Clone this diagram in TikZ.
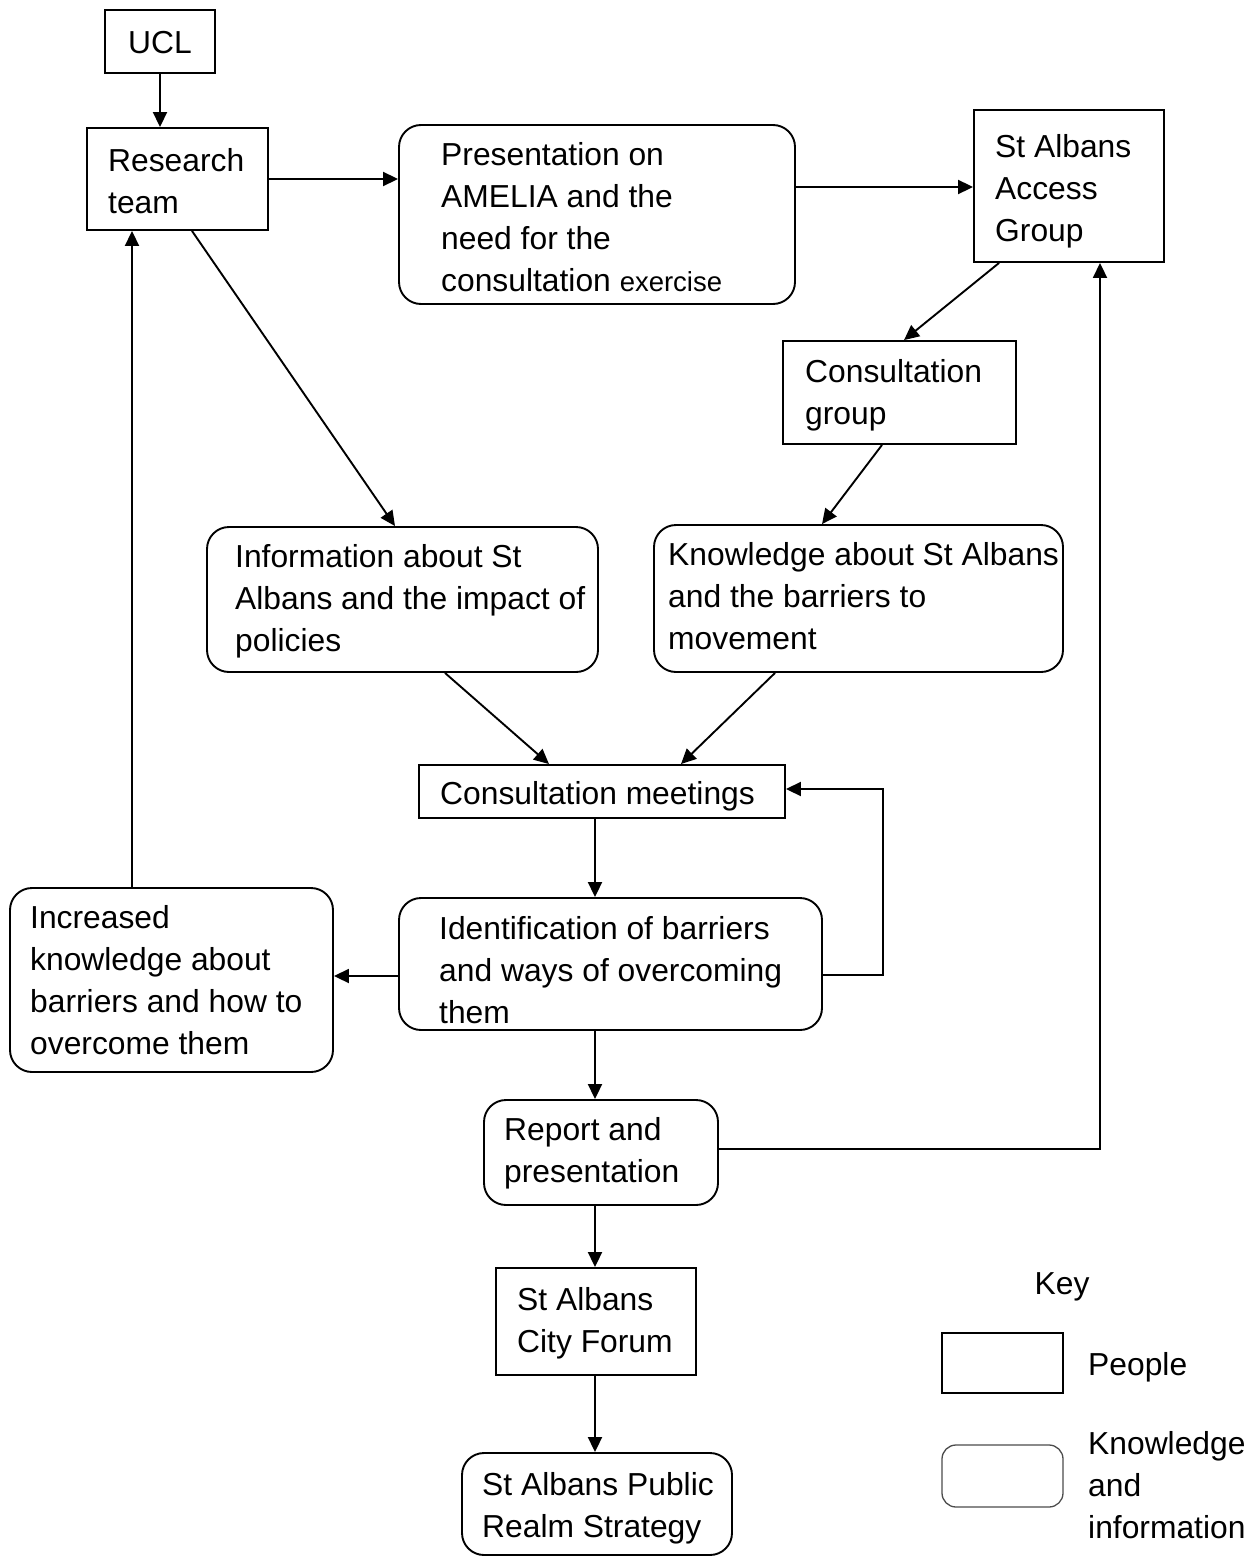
\documentclass[tikz,border=0pt]{standalone}
\usepackage{fontspec}
\setmainfont{Liberation Sans}
\usetikzlibrary{arrows.meta,calc}
\newcommand{\ts}{\strut}
\begin{document}
\begin{tikzpicture}[x=1pt,y=-1pt,
  pbox/.style={draw, line width=1.9pt, rectangle, inner sep=0pt},
  kbox/.style={pbox, rounded corners=22pt},
  txt/.style={font=\fontsize{31.8}{42}\selectfont, align=left, inner sep=0pt, anchor=west},
  arr/.style={-{Triangle[length=15pt,width=14pt]}, line width=1.9pt},
]
\useasboundingbox[fill=white] (0,0) rectangle (1258,1557);

% boxes
\node[pbox, minimum width=110pt, minimum height=63pt] (ucl) at (160,41.5) {};
\node[pbox, minimum width=181pt, minimum height=102pt] (rt) at (177.5,179) {};
\node[kbox, minimum width=396pt, minimum height=179pt] (pres) at (597,214.5) {};
\node[pbox, minimum width=190pt, minimum height=152pt] (sag) at (1069,186) {};
\node[pbox, minimum width=233pt, minimum height=103pt] (cg) at (899.5,392.5) {};
\node[kbox, minimum width=391pt, minimum height=145pt] (info) at (402.5,599.5) {};
\node[kbox, minimum width=409pt, minimum height=147pt] (know) at (858.5,598.5) {};
\node[pbox, minimum width=366pt, minimum height=53pt] (cm) at (602,791.5) {};
\node[kbox, minimum width=423pt, minimum height=132pt] (ident) at (610.5,964) {};
\node[kbox, minimum width=323pt, minimum height=184pt] (inc) at (171.5,980) {};
\node[kbox, minimum width=234pt, minimum height=105pt] (rep) at (601,1152.5) {};
\node[pbox, minimum width=200pt, minimum height=107pt] (cf) at (596,1321.5) {};
\node[kbox, minimum width=270pt, minimum height=102pt] (prs) at (597,1504) {};

% key boxes
\node[pbox, minimum width=121pt, minimum height=60pt] (keyp) at (1002.5,1363) {};
\node[draw=black!70, line width=1.3pt, rounded corners=14pt, inner sep=0pt,
      minimum width=121pt, minimum height=62pt] (keyk) at (1002.5,1476) {};

% texts
\node[txt, anchor=center] (tucl) at (160,45) {\ts UCL};
\node[txt] (trt) at (108,184) {\ts Research\\\ts team};
\node[txt] (tpres) at (441,220) {\ts Presentation on\\\ts AMELIA and the\\\ts need for the\\\ts consultation {\fontsize{27.5}{42}\selectfont exercise}};
\node[txt] (tsag) at (995,191) {\ts St Albans\\\ts Access\\\ts Group};
\node[txt] (tcg) at (805,395) {\ts Consultation\\\ts group};
\node[txt] (tinfo) at (235,601) {\ts Information about St\\\ts Albans and the impact of\\\ts policies};
\node[txt] (tknow) at (668,599) {\ts Knowledge about St Albans\\\ts and the barriers to\\\ts movement};
\node[txt] (tcm) at (440,796) {\ts Consultation meetings};
\node[txt] (tident) at (439,973) {\ts Identification of barriers\\\ts and ways of overcoming\\\ts them};
\node[txt] (tinc) at (30,983) {\ts Increased\\\ts knowledge about\\\ts barriers and how to\\\ts overcome them};
\node[txt] (trep) at (504,1153) {\ts Report and\\\ts presentation};
\node[txt] (tcf) at (517,1323) {\ts St Albans\\\ts City Forum};
\node[txt] (tprs) at (482,1508) {\ts St Albans Public\\\ts Realm Strategy};
\node[txt, anchor=center] (tkey) at (1062,1286) {\ts Key};
\node[txt] (tkp) at (1088,1367) {\ts People};
\node[txt] (tkk) at (1088,1488.5) {\ts Knowledge\\\ts and\\\ts information};

% connectors
\draw[arr] (ucl.south) -- (ucl.south |- rt.north);
\draw[arr] (rt.east) -- (pres.west |- rt.east);
\draw[arr] ($(pres.east)+(0,-27.5)$) -- ($(sag.west)+(0,1)$);
\draw[arr] ($(sag.south west)+(26,0)$) -- ($(cg.north west)+(122,0)$);
\draw[arr] ($(rt.south)+(14.5,0)$) -- ($(info.north)+(-7.5,0)$);
\draw[arr] ($(cg.south)+(-17.5,0)$) -- ($(know.north)+(-36.5,0)$);
\draw[arr] ($(info.south)+(42.5,0)$) -- ($(cm.north)+(-53,0)$);
\draw[arr] ($(know.south)+(-83.5,0)$) -- ($(cm.north)+(79,0)$);
\draw[arr] ($(cm.south)+(-7,0)$) -- ($(ident.north)+(-15.5,0)$);
\draw[arr] ($(ident.east)+(0,11)$) -- ++(60,0) |- ($(cm.east)+(0,-2.5)$);
\draw[arr] ($(ident.west)+(0,12)$) -- ($(inc.east)+(0,-4)$);
\draw[arr] ($(inc.north)+(-39.5,0)$) -- ($(rt.south)+(-45.5,0)$);
\draw[arr] ($(ident.south)+(-15.5,0)$) -- ($(rep.north)+(-6,0)$);
\draw[arr] ($(rep.east)+(0,-3.5)$) -| ($(sag.south)+(31,0)$);
\draw[arr] ($(rep.south)+(-6,0)$) -- ($(cf.north)+(-1,0)$);
\draw[arr] ($(cf.south)+(-1,0)$) -- ($(prs.north)+(-2,0)$);
\end{tikzpicture}
\end{document}
